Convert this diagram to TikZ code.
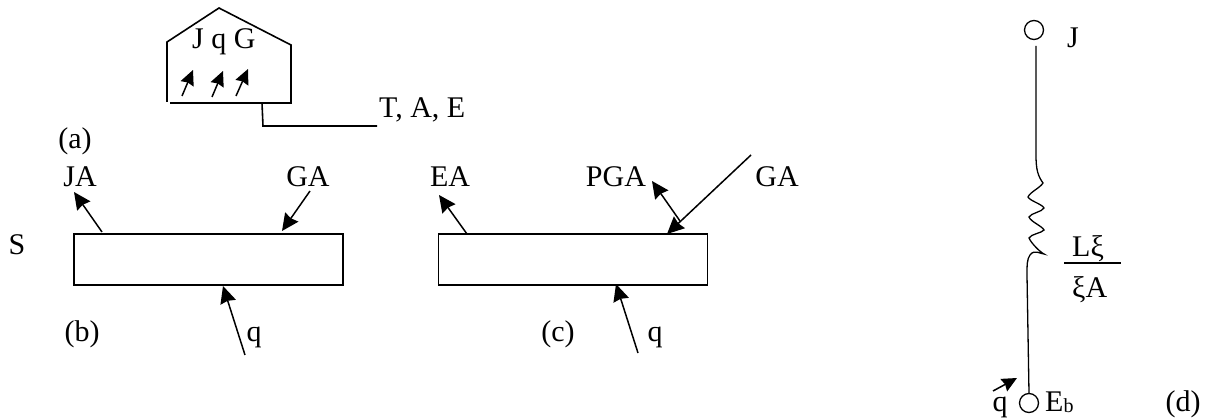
\documentclass[tikz,border=0pt]{standalone}
\usepackage{fontspec}
\setmainfont{Liberation Serif}
\usetikzlibrary{arrows.meta, positioning}
\tikzset{
  plate/.style={draw, line width=1.6pt, minimum width=269pt, minimum height=51pt, inner sep=0pt, fill=white},
  term/.style={draw, circle, line width=1.3pt, minimum size=19pt, inner sep=0pt},
  arr/.style={-{Stealth[length=17pt, width=16pt, inset=1.5pt]}, line width=1.5pt},
  smallarr/.style={-{Stealth[length=15pt, width=14pt, inset=1.5pt]}, line width=1.5pt},
  wall/.style={line width=1.6pt},
  labl/.style={font=\fontsize{30}{34}\selectfont, inner sep=0pt, anchor=base},
}
\begin{document}
\begin{tikzpicture}[x=1pt, y=-1pt]
  \useasboundingbox (0,0) rectangle (1208,419);

  %% ── Enclosure (a) ──
  \coordinate (hl) at (167,102);
  \coordinate (htl) at (167,42);
  \coordinate (hap) at (219,8);
  \coordinate (htr) at (291,45);
  \coordinate (hbr) at (291,103);
  \coordinate (hbl) at (170,103);
  \coordinate (stub) at (263,126);
  \coordinate (stubtop) at (262,103);
  \coordinate (wire) at (377,126);
  \draw[wall] (hl) -- (htl) -- (hap) -- (htr) -- (hbr) -- (hbl);
  \draw[wall] (stubtop) -- (stub) -- (wire);
  \node[labl, anchor=base west] (jqg) at (192,49) {J q G};
  \node[labl, anchor=base west] (tae) at (379,118) {T, A, E};
  \node[labl] (la) at (75,149) {(a)};
  \coordinate (r1) at (182,96);
  \coordinate (r1t) at (193,70);
  \coordinate (r2) at (212,97);
  \coordinate (r2t) at (223,71);
  \coordinate (r3) at (236,96);
  \coordinate (r3t) at (248,69);
  \draw[smallarr] (r1) -- (r1t);
  \draw[smallarr] (r2) -- (r2t);
  \draw[smallarr] (r3) -- (r3t);

  %% ── Plate (b) ──
  \node[plate] (pb) at (208.5,259.5) {};
  \node[labl] (sl) at (17,255) {S};
  \node[labl] (ja) at (80,187) {JA};
  \node[labl] (gab) at (308,187) {GA};
  \node[labl] (lb) at (82,342) {(b)};
  \node[labl] (qb) at (254,342) {q};
  \coordinate (jas) at (102,232);
  \coordinate (jae) at (74,192);
  \coordinate (gbs) at (310,191);
  \coordinate (gbe) at (282,231);
  \coordinate (qbs) at (245,355);
  \coordinate (qbe) at (223,286);
  \draw[arr] (jas) -- (jae);
  \draw[arr] (gbs) -- (gbe);
  \draw[arr] (qbs) -- (qbe);

  %% ── Plate (c) ──
  \node[plate] (pc) at (573,259.5) {};
  \node[labl] (ea) at (450,187) {EA};
  \node[labl] (pga) at (616,187) {PGA};
  \node[labl] (gac) at (777,187) {GA};
  \node[labl] (lc) at (558,342) {(c)};
  \node[labl] (qc) at (655,342) {q};
  \coordinate (eas) at (467,234);
  \coordinate (eae) at (439,195);
  \coordinate (pgs) at (680,221);
  \coordinate (pge) at (652,181);
  \coordinate (gcs) at (751,155);
  \coordinate (gce) at (667,234);
  \coordinate (qcs) at (638,353);
  \coordinate (qce) at (616,284);
  \draw[arr] (eas) -- (eae);
  \draw[arr] (pgs) -- (pge);
  \draw[arr] (gcs) -- (gce);
  \draw[arr] (qcs) -- (qce);

  %% ── Thermal circuit (d) ──
  \node[term] (tj) at (1034,30) {};
  \node[term] (tb) at (1029,403) {};
  \node[labl] (jl) at (1073,48) {J};
  \node[labl, anchor=base west] (ebl) at (1045,412) {E\raisebox{-1pt}{\fontsize{20}{22}\selectfont b}};
  \node[labl] (ql) at (1000,412) {q};
  \node[labl] (ld) at (1183,412) {(d)};
  \coordinate (qds) at (993,391);
  \coordinate (qde) at (1017,378);
  \draw[smallarr] (qds) -- (qde);
  \draw[line width=1.3pt] (1036,46) -- (1036,155)
    .. controls (1036,170) and (1038,176) .. (1043,183)
    .. controls (1040,188) and (1030,192) .. (1028,197)
    .. controls (1030,201) and (1042,204) .. (1044,208)
    .. controls (1042,212) and (1031,213) .. (1029,217)
    .. controls (1031,222) and (1042,226) .. (1044,230)
    .. controls (1042,233) and (1031,234) .. (1029,238)
    .. controls (1031,243) and (1040,252) .. (1044,254)
    .. controls (1041,254) and (1034,249) .. (1030,255)
    .. controls (1027,259) and (1027,265) .. (1027,275)
    -- (tb.north);
  \draw[line width=1.6pt] (1064,263) coordinate (fl) -- (1121,263) coordinate (fr);
  \node[labl, anchor=base west] (num) at (1072,257) {Lξ};
  \node[labl, anchor=base west] (den) at (1072,298) {ξA};
\end{tikzpicture}
\end{document}
